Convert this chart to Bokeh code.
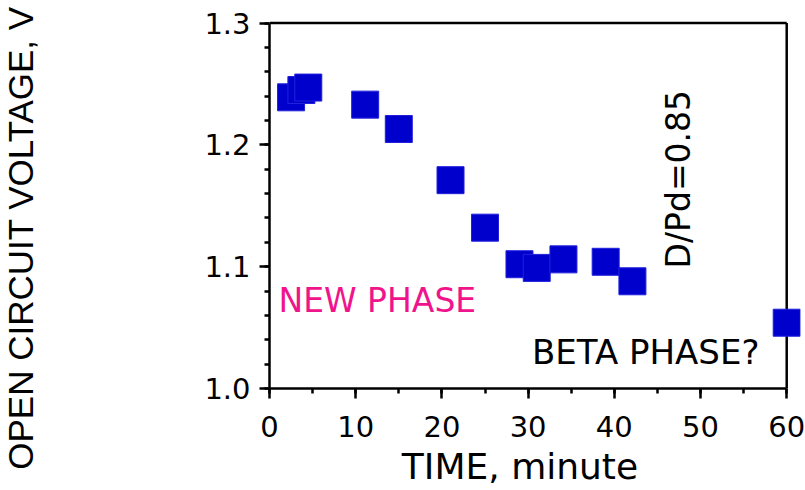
from bokeh.plotting import figure
from bokeh.layouts import row
from bokeh.models import Label, SingleIntervalTicker, Range1d, PrintfTickFormatter, Plot
from bokeh.embed import file_html
from bokeh.resources import INLINE
import math

# Data
time_min = [2.5, 3.7, 4.5, 11.1, 15.0, 21.0, 25.0, 29.0, 31.0, 34.1, 39.0, 42.1, 60.0]
voltage = [1.239, 1.245, 1.247, 1.233, 1.213, 1.171, 1.132, 1.102, 1.099, 1.106, 1.104, 1.088, 1.054]

x_label = "TIME, minute"
y_label = "OPEN CIRCUIT VOLTAGE, V"
note_new = "NEW PHASE"
note_beta = "BETA PHASE?"
note_ratio = "D/Pd=0.85"

x_lo, x_hi = 0, 60
y_lo, y_hi = 1.0, 1.3

FONT = "DejaVu Sans"
HAS_FRAME_ALIGN = "frame_align" in Plot.properties()

# narrow strip that carries the vertical y-axis title
ylab_fig = figure(width=45, height=490, output_backend="svg", toolbar_location=None,
                  x_range=Range1d(0, 45), y_range=Range1d(0, 490),
                  x_axis_location=None, y_axis_location=None,
                  min_border=0)
ylab_fig.title = None
ylab_fig.grid.visible = False
ylab_fig.outline_line_color = None
ylab_fig.add_layout(Label(x=20, y=252.5, text=y_label, angle=math.pi / 2,
                          text_align="center", text_baseline="alphabetic",
                          text_font="Liberation Sans", text_font_size="35px",
                          text_color="black"))

p = figure(width=760, height=490, output_backend="svg", toolbar_location=None,
           x_range=Range1d(x_lo, 61.6), y_range=Range1d(y_lo, 1.3037),
           min_border_left=224, min_border_right=5, min_border_top=18, min_border_bottom=102)
p.title = None
p.grid.visible = False
p.background_fill_color = "white"
p.border_fill_color = "white"
p.outline_line_color = None

if HAS_FRAME_ALIGN:
    ylab_fig.frame_align = False
    p.frame_align = False

# box lines on the top and right, at the axis limits
p.segment(x0=[x_lo, x_hi], y0=[y_hi, y_lo], x1=[x_hi, x_hi], y1=[y_hi, y_hi],
          line_color="black", line_width=2.5)

p.scatter(time_min, voltage, marker="square", size=27, fill_color="#0000CC",
          line_color="#2020DD", line_width=1)

xa = p.xaxis[0]
xa.ticker = SingleIntervalTicker(interval=10, num_minor_ticks=2)
xa.bounds = (x_lo, x_hi)
ya = p.yaxis[0]
ya.ticker = SingleIntervalTicker(interval=0.1, num_minor_ticks=5)
ya.formatter = PrintfTickFormatter(format="%.1f")
ya.bounds = (y_lo, y_hi)

for ax in (xa, ya):
    ax.axis_line_width = 2.5
    ax.axis_line_color = "black"
    ax.major_tick_line_width = 2.5
    ax.minor_tick_line_width = 2.5
    ax.major_tick_out = 10
    ax.major_tick_in = 0
    ax.minor_tick_out = 5
    ax.minor_tick_in = 0
    ax.major_label_text_font = FONT
    ax.major_label_text_font_size = "29px"
    ax.major_label_text_color = "black"

ya.major_label_standoff = 9
xa.major_label_standoff = 17

# trailing no-break spaces nudge the centred title to the left, as in the original
xa.axis_label = x_label + "\u00a0\u00a0\u2009"
xa.axis_label_text_font = FONT
xa.axis_label_text_font_size = "36px"
xa.axis_label_text_font_style = "normal"
xa.axis_label_text_color = "black"
xa.axis_label_standoff = 6

p.add_layout(Label(x=1.04, y=1.0723, text=note_new, text_align="left", text_baseline="alphabetic",
                   text_font=FONT, text_font_size="33px", text_color="#F0148C"))
p.add_layout(Label(x=30.45, y=1.0296, text=note_beta, text_align="left", text_baseline="alphabetic",
                   text_font=FONT, text_font_size="34px", text_color="black"))
p.add_layout(Label(x=47.46, y=1.0985, text=note_ratio, angle=math.pi / 2,
                   text_align="left", text_baseline="alphabetic",
                   text_font=FONT, text_font_size="33px", text_color="black"))

layout = row(ylab_fig, p)
open("out.html", "w").write(file_html(layout, INLINE))
